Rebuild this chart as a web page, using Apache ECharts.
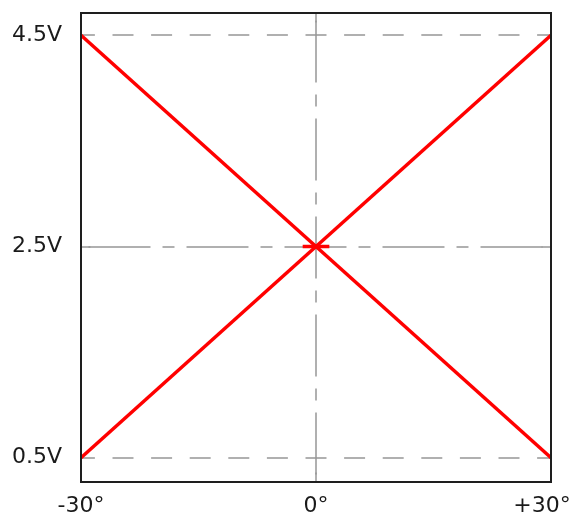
<!DOCTYPE html>
<html>
<head>
<meta charset="utf-8">
<script src="https://cdn.jsdelivr.net/npm/echarts@6/dist/echarts.min.js"></script>
<style>html,body{margin:0;padding:0;background:#fff}#c{width:576px;height:519px}</style>
</head>
<body>
<div id="c"></div>
<script>
// ---- data ----
var xTicks = [-30, 0, 30];
var xTickLabels = ['-30°', '0°', '+30°'];
var yTicks = [0.5, 2.5, 4.5];
var yTickLabels = ['0.5V', '2.5V', '4.5V'];
var risingLine = [[-30, 0.5], [30, 4.5]];
var fallingLine = [[-30, 4.5], [30, 0.5]];
var centerMark = [[-1.7, 2.5], [1.7, 2.5]];
var xRange = [-30, 30];
var yRange = [0.27, 4.71];
var dashedRefY = [0.5, 4.5];
var centerX = 0, centerY = 2.5;

var chart = echarts.init(document.getElementById('c'), null, {renderer: 'canvas'});
var grey = '#979797';
var FONT = 'DejaVu Sans';
var FS = 22;

function labelFor(ticks, labels, v) {
  for (var i = 0; i < ticks.length; i++) if (Math.abs(ticks[i] - v) < 1e-6) return labels[i];
  return '';
}

var dashDot = {color: grey, width: 1.5, type: [62, 12, 12, 12], dashOffset: 90.5};
var solid = {color: grey, width: 1.5, type: 'solid'};
var dashed = {color: grey, width: 1.5, type: [21, 17.6], dashOffset: 7.1};

var mlData = [];
dashedRefY.forEach(function (v) { mlData.push({yAxis: v, lineStyle: dashed}); });
mlData.push({yAxis: centerY, lineStyle: dashDot});
mlData.push({xAxis: centerX, lineStyle: dashDot});
mlData.push([{coord: [xRange[0], centerY], lineStyle: solid}, {coord: [xRange[0] + 1.2, centerY]}]);
mlData.push([{coord: [xRange[1] - 1.2, centerY], lineStyle: solid}, {coord: [xRange[1], centerY]}]);
mlData.push([{coord: [centerX, yRange[0]], lineStyle: solid}, {coord: [centerX, yRange[0] + 0.09]}]);
mlData.push([{coord: [centerX, yRange[1] - 0.09], lineStyle: solid}, {coord: [centerX, yRange[1]]}]);

var redStyle = {color: '#ff0000', width: 3.5};

chart.setOption({
  animation: false,
  backgroundColor: '#ffffff',
  grid: {left: 81, right: 25, top: 13, bottom: 37, show: true, borderColor: '#1e1e1e', borderWidth: 2, backgroundColor: 'transparent', z: 10},
  xAxis: {
    type: 'value', min: xRange[0], max: xRange[1],
    axisLine: {show: false}, axisTick: {show: false}, splitLine: {show: false},
    axisLabel: {
      customValues: xTicks, margin: 13,
      fontFamily: FONT, fontSize: FS, color: '#1a1a1a',
      formatter: function (v) {
        var s = labelFor(xTicks, xTickLabels, v);
        return v === xTicks[xTicks.length - 1] ? '{r|' + s + '}' : s;
      },
      rich: {r: {fontFamily: FONT, fontSize: FS, color: '#1a1a1a', padding: [0, 18, 0, 0]}}
    }
  },
  yAxis: {
    type: 'value', min: yRange[0], max: yRange[1],
    axisLine: {show: false}, axisTick: {show: false}, splitLine: {show: false},
    axisLabel: {
      customValues: yTicks, margin: 19,
      fontFamily: FONT, fontSize: FS, color: '#1a1a1a',
      padding: [4, 0, 0, 0],
      formatter: function (v) { return labelFor(yTicks, yTickLabels, v); }
    }
  },
  series: [
    {
      type: 'line', data: [], z: 1, silent: true,
      markLine: {silent: true, symbol: ['none', 'none'], label: {show: false}, animation: false, data: mlData}
    },
    {type: 'line', data: risingLine, symbol: 'none', lineStyle: redStyle, z: 5},
    {type: 'line', data: fallingLine, symbol: 'none', lineStyle: redStyle, z: 5},
    {type: 'line', data: centerMark, symbol: 'none', lineStyle: {color: '#ff0000', width: 3.5}, z: 5}
  ]
});
</script>
</body>
</html>
